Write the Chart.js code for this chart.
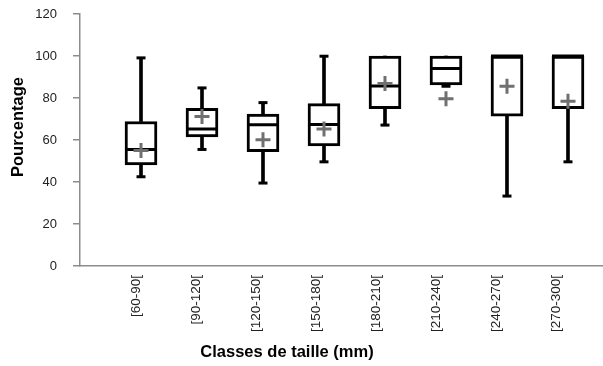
<!DOCTYPE html>
<html>
<head>
<meta charset="utf-8">
<script src="https://cdn.jsdelivr.net/npm/chart.js@4.4.1/dist/chart.umd.min.js"></script>
<style>
  html, body { margin: 0; padding: 0; background: #fff; }
  #wrap { width: 603px; height: 366px; position: relative; }
</style>
</head>
<body>
<div id="wrap"><canvas id="c"></canvas></div>
<script>
const categories = ['[60-90[', '[90-120[', '[120-150[', '[150-180[', '[180-210[', '[210-240[', '[240-270[', '[270-300['];
const minVals    = [42.5, 55.5, 39.5, 49.6, 67.1, 85.6, 33.3, 49.6];
const q1Vals     = [48.1, 61.5, 54.5, 57.2, 74.9, 86.2, 71.4, 74.9];
const medianVals = [55.5, 65.2, 67.3, 67.4, 85.7, 94.0, 100, 100];
const q3Vals     = [68.8, 75.1, 72.4, 77.3, 100, 100, 100, 100];
const maxVals    = [99.1, 84.8, 77.8, 99.9, 100, 100, 100, 100];
const meanVals   = [55.0, 71.2, 60.1, 65.2, 86.9, 79.7, 85.6, 78.4];
const yTicks     = [0, 20, 40, 60, 80, 100, 120];
const xTitle = 'Classes de taille (mm)';
const yTitle = 'Pourcentage';

const pos = categories.map((c, i) => i + 1);
const FONT = '"Liberation Sans", Arial, sans-serif';

const zeroPad = (s) => { s.paddingLeft = 0; s.paddingRight = 0; s.paddingTop = 0; s.paddingBottom = 0; };

const titlePlugin = {
  id: 'axisTitles',
  afterDraw(chart) {
    const ctx = chart.ctx;
    ctx.save();
    ctx.font = 'bold 16.5px ' + FONT;
    ctx.fillStyle = '#000';
    ctx.textAlign = 'center';
    ctx.textBaseline = 'middle';
    ctx.fillText(xTitle, 287, 352);
    ctx.translate(18, 127);
    ctx.rotate(-Math.PI / 2);
    ctx.fillText(yTitle, 0, 0);
    ctx.restore();
  }
};

const capData = pos.map((x, i) => ({ x, y: minVals[i], whisker: q1Vals[i] - minVals[i] }))
  .concat(pos.map((x, i) => ({ x, y: maxVals[i], whisker: maxVals[i] - q3Vals[i] })));

new Chart(document.getElementById('c'), {
  type: 'bar',
  data: {
    datasets: [
      {
        type: 'bar', label: 'lower whisker',
        data: pos.map((x, i) => ({ x, y: [minVals[i], q1Vals[i]] })),
        backgroundColor: '#000', borderWidth: 0, barThickness: 3, grouped: false, order: 6
      },
      {
        type: 'bar', label: 'upper whisker',
        data: pos.map((x, i) => ({ x, y: [q3Vals[i], maxVals[i]] })),
        backgroundColor: '#000', borderWidth: 0, barThickness: 3, grouped: false, order: 6
      },
      {
        type: 'line', label: 'caps', showLine: false,
        data: capData,
        pointStyle: 'line',
        pointRadius: (c) => (c.raw && c.raw.whisker > 0 ? 4.5 : 0),
        pointBorderWidth: 3, borderColor: '#000', order: 5
      },
      {
        type: 'bar', label: 'box',
        data: pos.map((x, i) => ({ x, y: [q1Vals[i], q3Vals[i]] })),
        backgroundColor: '#fff', borderColor: '#000', borderWidth: 3, borderSkipped: false,
        barThickness: 32, grouped: false, order: 4
      },
      {
        type: 'line', label: 'median', showLine: false,
        data: pos.map((x, i) => ({ x, y: medianVals[i] })),
        pointStyle: 'line', pointRadius: 16, pointBorderWidth: 3, borderColor: '#000', order: 3
      },
      {
        type: 'line', label: 'mean', showLine: false,
        data: pos.map((x, i) => ({ x, y: meanVals[i] })),
        pointStyle: 'cross', pointRadius: 7.5, pointBorderWidth: 3, borderColor: '#707070', order: 1
      }
    ]
  },
  options: {
    responsive: true,
    maintainAspectRatio: false,
    animation: false,
    events: [],
    layout: { autoPadding: false, padding: { top: 14, right: 0, left: 0, bottom: 0 } },
    plugins: { legend: { display: false }, tooltip: { enabled: false } },
    scales: {
      x: {
        type: 'linear', display: false, offset: false, min: 0, max: 8.574,
        ticks: { display: false },
        afterFit: zeroPad
      },
      xl: {
        type: 'linear', position: 'bottom', offset: false, min: 0.0667, max: 8.783,
        afterBuildTicks: (s) => { s.ticks = pos.map(v => ({ value: v })); },
        afterFit: (s) => { s.height = 100; zeroPad(s); },
        border: { display: true, color: '#8c8c8c', width: 1.5 },
        grid: { display: true, drawOnChartArea: false, drawTicks: false },
        ticks: {
          autoSkip: false, minRotation: 90, maxRotation: 90, padding: 9,
          color: '#222', font: { size: 13.5, family: FONT },
          callback: (v) => categories[Math.round(v) - 1] || ''
        }
      },
      y: {
        type: 'linear', min: 0, max: 120,
        afterBuildTicks: (s) => { s.ticks = yTicks.map(v => ({ value: v })); },
        afterFit: (s) => { s.width = 80; zeroPad(s); },
        border: { display: true, color: '#8c8c8c', width: 1.5 },
        grid: { display: true, drawOnChartArea: false, drawTicks: true, tickLength: 7, color: '#8c8c8c', lineWidth: 1.5 },
        ticks: { padding: 16, color: '#222', font: { size: 13, family: FONT } }
      }
    }
  },
  plugins: [titlePlugin]
});
</script>
</body>
</html>
